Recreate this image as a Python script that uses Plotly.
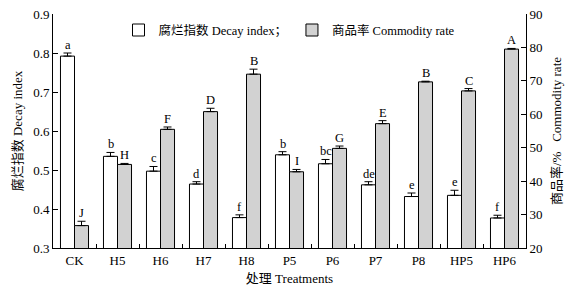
import plotly.graph_objects as go

categories = ["CK", "H5", "H6", "H7", "H8", "P5", "P6", "P7", "P8", "HP5", "HP6"]
decay_index = [0.792, 0.535, 0.497, 0.464, 0.378, 0.539, 0.516, 0.462, 0.432, 0.435, 0.377]
decay_err = [0.008, 0.010, 0.012, 0.006, 0.007, 0.008, 0.011, 0.008, 0.009, 0.013, 0.007]
decay_letters = ["a", "b", "c", "d", "f", "b", "bc", "de", "e", "e", "f"]
commodity_rate = [26.7, 45.0, 55.5, 60.8, 72.0, 42.8, 49.8, 57.2, 69.7, 67.0, 79.5]
commodity_err = [1.3, 0.3, 0.7, 1.0, 1.5, 0.7, 0.7, 0.9, 0.2, 0.7, 0.2]
commodity_letters = ["J", "H", "F", "D", "B", "I", "G", "E", "B", "C", "A"]

FONT = "Liberation Serif, Noto Sans CJK SC, serif"
BW = 0.326
GRAY = "#d2d2d2"
SHIFT = 7  # half bar width in pixels

fig = go.Figure()
fig.add_trace(go.Bar(
    x=categories, y=decay_index, name="腐烂指数 Decay index；",
    width=BW, offset=-BW,
    marker=dict(color="white", line=dict(color="black", width=1)),
    error_y=dict(type="data", array=decay_err, symmetric=False, arrayminus=[0]*len(decay_err),
                 color="black", thickness=1, width=4),
    yaxis="y",
))
fig.add_trace(go.Bar(
    x=categories, y=commodity_rate, name="商品率 Commodity rate",
    width=BW, offset=0,
    marker=dict(color=GRAY, line=dict(color="black", width=1)),
    error_y=dict(type="data", array=commodity_err, symmetric=False, arrayminus=[0]*len(commodity_err),
                 color="black", thickness=1, width=4),
    yaxis="y2",
))

annotations = []
for c, v, e, t in zip(categories, decay_index, decay_err, decay_letters):
    annotations.append(dict(x=c, y=v + e, xref="x", yref="y", text=t, showarrow=False,
                            xshift=-SHIFT, yanchor="bottom", yshift=-1,
                            font=dict(family=FONT, size=12.5, color="black")))
for c, v, e, t in zip(categories, commodity_rate, commodity_err, commodity_letters):
    annotations.append(dict(x=c, y=v + e, xref="x", yref="y2", text=t, showarrow=False,
                            xshift=SHIFT, yanchor="bottom", yshift=-1,
                            font=dict(family=FONT, size=12.5, color="black")))

# The page adds an 8px body margin, so the figure is sized to fit inside the window.
fig.update_layout(
    width=572, height=278,
    margin=dict(l=45, r=54, t=6, b=38, autoexpand=False),
    paper_bgcolor="white", plot_bgcolor="white",
    font=dict(family=FONT, size=13, color="black"),
    barmode="overlay",
    showlegend=True,
    annotations=annotations,
    legend=dict(orientation="h", x=0.5, xanchor="center", y=0.93, yanchor="middle",
                bgcolor="rgba(0,0,0,0)", font=dict(family=FONT, size=12.5),
                itemwidth=30, tracegroupgap=0),
    xaxis=dict(
        type="category", categoryorder="array", categoryarray=categories,
        range=[-0.5, len(categories) - 0.5], automargin=False,
        showline=True, linecolor="black", linewidth=1,
        ticks="inside", tickson="boundaries", ticklen=4, tickcolor="black",
        showgrid=False, zeroline=False, ticklabeloverflow="allow",
        tickfont=dict(family=FONT, size=13),
        title=dict(text="处理 Treatments", font=dict(family=FONT, size=13), standoff=8),
    ),
    yaxis=dict(
        range=[0.3, 0.9], dtick=0.1, tickformat=".1f", automargin=False,
        showline=True, linecolor="black", linewidth=1,
        ticks="inside", ticklen=5, tickcolor="black",
        showgrid=False, zeroline=False, ticklabeloverflow="allow",
        tickfont=dict(family=FONT, size=13),
        title=dict(text="腐烂指数 Decay index", font=dict(family=FONT, size=13), standoff=7),
    ),
    yaxis2=dict(
        range=[20, 90], dtick=10, overlaying="y", side="right", automargin=False,
        showline=True, linecolor="black", linewidth=1,
        ticks="inside", ticklen=5, tickcolor="black",
        showgrid=False, zeroline=False, ticklabeloverflow="allow",
        tickfont=dict(family=FONT, size=13),
        title=dict(text="商品率/%   Commodity rate", font=dict(family=FONT, size=13), standoff=10),
    ),
)

fig.write_html("out.html")
